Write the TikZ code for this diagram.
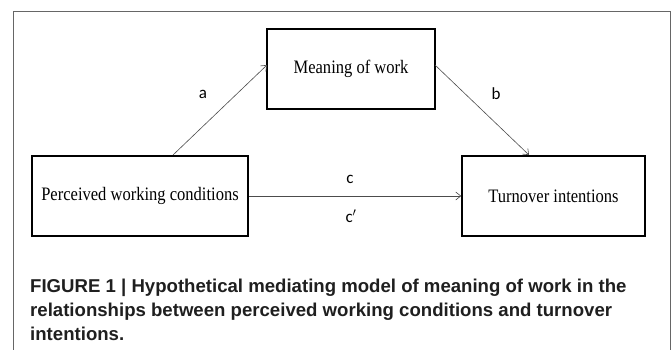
\documentclass[tikz,border=0pt]{standalone}
\usepackage{fontspec}
\setmainfont{Liberation Serif}
\newfontfamily\boxfont[FakeStretch=0.87]{Liberation Serif}
\newfontfamily\capfont{Liberation Sans}
\newfontfamily\lblfont{Carlito}
\usetikzlibrary{arrows.meta}
\tikzset{
  varbox/.style={draw=black, line width=1.6pt, minimum width=#1, minimum height=80pt, inner sep=0pt, font=\boxfont\fontsize{19}{21}\selectfont},
  pathlbl/.style={font=\lblfont\fontsize{17}{19}\selectfont, inner sep=0pt},
  link/.style={draw=black!70, line width=0.6pt, -{Straight Barb[length=5pt,width=8pt,line width=0.6pt]}},
  frame/.style={draw=black!60, line width=1pt}
}
\begin{document}
\begin{tikzpicture}[x=1pt,y=-1pt]
\useasboundingbox (0,0) rectangle (672,350);
\draw[frame] (13,350) -- (13,12) -- (670,12) -- (670,350);
\node[varbox=168pt] (mw) at (351,69) {Meaning of work};
\node[varbox=216pt] (pwc) at (140,196) {Perceived working conditions};
\node[varbox=183pt] (ti) at (553.5,196) {Turnover intentions};
\coordinate (as) at (173,155);
\coordinate (ae) at (267,65);
\coordinate (bs) at (435,65);
\coordinate (be) at (529,155);
\draw[link] (as) -- (ae);
\draw[link] (bs) -- (be);
\draw[link] (pwc.east) -- (ti.west);
\node[pathlbl] (la) at (203,94) {a};
\node[pathlbl] (lb) at (496,94) {b};
\node[pathlbl] (lc) at (350,179) {c};
\node[pathlbl] (lcp) at (351,216) {c$'$};
\node[anchor=north west, align=left, inner sep=0pt, font=\capfont\bfseries\fontsize{18.6}{24}\selectfont, text=black!88] (cap) at (30,278.5)
{FIGURE 1 | Hypothetical mediating model of meaning of work in the\\
relationships between perceived working conditions and turnover\\
intentions.};
\end{tikzpicture}
\end{document}
